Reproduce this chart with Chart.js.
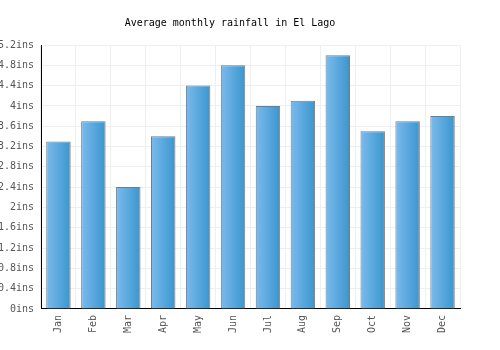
<!DOCTYPE html>
<html>
<head>
<meta charset="utf-8">
<script src="https://cdn.jsdelivr.net/npm/chart.js@4"></script>
<style>
html,body{margin:0;padding:0;background:#fff;}
#wrap{width:500px;height:350px;}
</style>
</head>
<body>
<div id="wrap"><canvas id="c" width="500" height="350"></canvas></div>
<script>
const months = ["Jan","Feb","Mar","Apr","May","Jun","Jul","Aug","Sep","Oct","Nov","Dec"];
const rainfall = [3.3, 3.7, 2.4, 3.4, 4.4, 4.8, 4.0, 4.1, 5.0, 3.5, 3.7, 3.8];
const titleText = "Average monthly rainfall in El Lago";
const unit = "ins";
const BAR_PCT = 0.7;

function barGradient(ctx) {
  const chart = ctx.chart;
  const xs = chart.scales && chart.scales.x;
  if (!xs || !chart.chartArea || ctx.dataIndex === undefined) return '#5aa8df';
  const cx = xs.getPixelForValue(ctx.dataIndex);
  const w = (xs.width / months.length) * BAR_PCT;
  const g = chart.ctx.createLinearGradient(cx - w / 2, 0, cx + w / 2, 0);
  g.addColorStop(0, '#7cbaec');
  g.addColorStop(1, '#3996cf');
  return g;
}

new Chart(document.getElementById('c'), {
  type: 'bar',
  data: {
    labels: months,
    datasets: [{
      data: rainfall,
      backgroundColor: barGradient,
      borderColor: '#7a7a7a',
      borderWidth: 1,
      barPercentage: BAR_PCT,
      categoryPercentage: 1.0
    }]
  },
  options: {
    responsive: false,
    animation: false,
    devicePixelRatio: 1,
    layout: { padding: { left: 0, right: 40, top: 0, bottom: 11 } },
    plugins: {
      legend: { display: false },
      tooltip: { enabled: false },
      title: {
        display: true,
        text: titleText,
        color: '#000',
        font: { family: 'DejaVu Sans Mono', size: 10, weight: 'normal' },
        padding: { top: 17, bottom: 16 }
      }
    },
    scales: {
      x: {
        grid: { color: '#efefef', drawTicks: false, lineWidth: 1 },
        border: { color: '#000', width: 1 },
        ticks: {
          color: '#555',
          font: { family: 'DejaVu Sans Mono', size: 10 },
          maxRotation: 90, minRotation: 90,
          padding: 6
        }
      },
      y: {
        min: 0, max: 5.2,
        grid: { color: '#efefef', drawTicks: false, lineWidth: 1 },
        border: { color: '#000', width: 1 },
        afterFit(s) { s.width = 41; },
        ticks: {
          stepSize: 0.4,
          color: '#555',
          font: { family: 'DejaVu Sans Mono', size: 10 },
          padding: 7,
          callback: v => (Math.round(v * 10) / 10) + unit
        }
      }
    }
  }
});
</script>
</body>
</html>
